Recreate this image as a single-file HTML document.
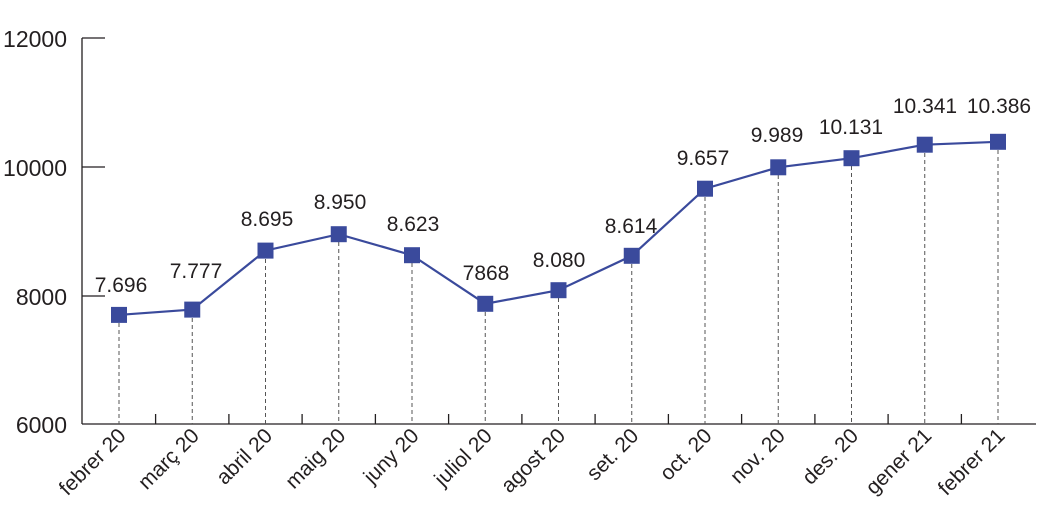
<!DOCTYPE html>
<html><head><meta charset="utf-8"><style>
body{margin:0;background:#fff}
svg text{font-family:"Liberation Sans",sans-serif;fill:#231f20}
</style></head><body>
<svg width="1040" height="521" viewBox="0 0 1040 521" xmlns="http://www.w3.org/2000/svg">
<g stroke="#231f20" stroke-width="1.3" fill="none">
<line x1="82" y1="38" x2="82" y2="424"/>
<line x1="82" y1="424" x2="1036" y2="424"/>
<line x1="82" y1="38" x2="105" y2="38"/>
<line x1="82" y1="167" x2="105" y2="167"/>
<line x1="82" y1="296" x2="105" y2="296"/>
<line x1="155.6" y1="424" x2="155.6" y2="414"/>
<line x1="228.9" y1="424" x2="228.9" y2="414"/>
<line x1="302.1" y1="424" x2="302.1" y2="414"/>
<line x1="375.4" y1="424" x2="375.4" y2="414"/>
<line x1="448.6" y1="424" x2="448.6" y2="414"/>
<line x1="521.9" y1="424" x2="521.9" y2="414"/>
<line x1="595.1" y1="424" x2="595.1" y2="414"/>
<line x1="668.4" y1="424" x2="668.4" y2="414"/>
<line x1="741.6" y1="424" x2="741.6" y2="414"/>
<line x1="814.9" y1="424" x2="814.9" y2="414"/>
<line x1="888.1" y1="424" x2="888.1" y2="414"/>
<line x1="961.4" y1="424" x2="961.4" y2="414"/>
</g>
<g stroke="#555" stroke-width="1" stroke-dasharray="4,3">
<line x1="119" y1="323" x2="119" y2="424"/>
<line x1="192.25" y1="318" x2="192.25" y2="424"/>
<line x1="265.5" y1="259" x2="265.5" y2="424"/>
<line x1="338.75" y1="242" x2="338.75" y2="424"/>
<line x1="412" y1="263" x2="412" y2="424"/>
<line x1="485.25" y1="312" x2="485.25" y2="424"/>
<line x1="558.5" y1="298" x2="558.5" y2="424"/>
<line x1="631.75" y1="264" x2="631.75" y2="424"/>
<line x1="705" y1="197" x2="705" y2="424"/>
<line x1="778.25" y1="175" x2="778.25" y2="424"/>
<line x1="851.5" y1="166" x2="851.5" y2="424"/>
<line x1="924.75" y1="153" x2="924.75" y2="424"/>
<line x1="998" y1="150" x2="998" y2="424"/>
</g>
<g font-size="23" text-anchor="end">
<text x="67" y="47">12000</text>
<text x="67" y="176">10000</text>
<text x="67" y="305">8000</text>
<text x="67" y="433">6000</text>
</g>
<polyline points="119,314.9 192.25,309.6 265.5,250.6 338.75,234.2 412,255.2 485.25,303.8 558.5,290.2 631.75,255.8 705,188.7 778.25,167.3 851.5,158.2 924.75,144.7 998,141.8" fill="none" stroke="#3a4a9c" stroke-width="2.2"/>
<g fill="#3a4a9c">
<rect x="111" y="306.9" width="16" height="16"/>
<rect x="184.25" y="301.6" width="16" height="16"/>
<rect x="257.5" y="242.6" width="16" height="16"/>
<rect x="330.75" y="226.2" width="16" height="16"/>
<rect x="404" y="247.2" width="16" height="16"/>
<rect x="477.25" y="295.8" width="16" height="16"/>
<rect x="550.5" y="282.2" width="16" height="16"/>
<rect x="623.75" y="247.8" width="16" height="16"/>
<rect x="697" y="180.7" width="16" height="16"/>
<rect x="770.25" y="159.3" width="16" height="16"/>
<rect x="843.5" y="150.2" width="16" height="16"/>
<rect x="916.75" y="136.7" width="16" height="16"/>
<rect x="990" y="133.8" width="16" height="16"/>
</g>
<g font-size="21" text-anchor="middle">
<text x="121" y="292">7.696</text>
<text x="196" y="278">7.777</text>
<text x="267" y="226">8.695</text>
<text x="340" y="209">8.950</text>
<text x="413" y="231">8.623</text>
<text x="486" y="280">7868</text>
<text x="559" y="267">8.080</text>
<text x="631" y="233">8.614</text>
<text x="703" y="165">9.657</text>
<text x="777" y="142">9.989</text>
<text x="851" y="134">10.131</text>
<text x="925" y="113">10.341</text>
<text x="999" y="113">10.386</text>
</g>
<g font-size="21" text-anchor="end">
<text transform="translate(127,437) rotate(-45)">febrer 20</text>
<text transform="translate(200.25,437) rotate(-45)">març 20</text>
<text transform="translate(273.5,437) rotate(-45)">abril 20</text>
<text transform="translate(346.75,437) rotate(-45)">maig 20</text>
<text transform="translate(420,437) rotate(-45)">juny 20</text>
<text transform="translate(493.25,437) rotate(-45)">juliol 20</text>
<text transform="translate(566.5,437) rotate(-45)">agost 20</text>
<text transform="translate(639.75,437) rotate(-45)">set. 20</text>
<text transform="translate(713,437) rotate(-45)">oct. 20</text>
<text transform="translate(786.25,437) rotate(-45)">nov. 20</text>
<text transform="translate(859.5,437) rotate(-45)">des. 20</text>
<text transform="translate(932.75,437) rotate(-45)">gener 21</text>
<text transform="translate(1006,437) rotate(-45)">febrer 21</text>
</g>
</svg>
</body></html>
